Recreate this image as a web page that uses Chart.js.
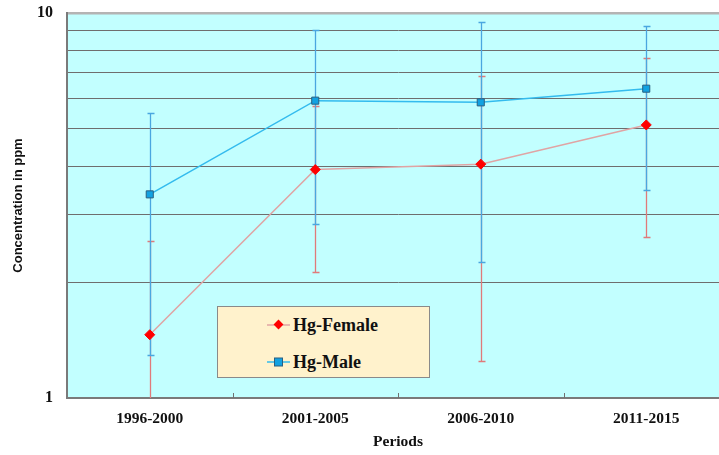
<!DOCTYPE html>
<html>
<head>
<meta charset="utf-8">
<script src="https://cdn.jsdelivr.net/npm/chart.js@4/dist/chart.umd.min.js"></script>
<style>
    html, body { margin: 0; padding: 0; background: #ffffff; overflow: hidden; }
    #wrap { position: relative; width: 735px; height: 455px; }
    #legend {
        position: absolute; left: 217px; top: 306px; width: 211px; height: 70px;
        background: #fff2cc; border: 1px solid #8a8a8a;
        font: bold 18px "Liberation Serif", serif; color: #111;
    }
    .item { position: absolute; left: 49px; height: 20px; display: flex; align-items: center; }
    .item svg { margin-right: 3px; }
</style>
</head>
<body>
<div id="wrap">
    <canvas id="myChart" width="735" height="455"></canvas>
    <div id="legend">
        <div class="item" style="top: 8px;">
            <svg width="23" height="12"><line x1="0" y1="6" x2="23" y2="6" stroke="#e2a4a4" stroke-width="1.5"/><rect x="8" y="2" width="7" height="7" fill="#ff0000" transform="rotate(45 11.5 5.5)"/></svg>Hg-Female
        </div>
        <div class="item" style="top: 45px;">
            <svg width="23" height="12"><line x1="0" y1="6" x2="23" y2="6" stroke="#33bbee" stroke-width="1.5"/><rect x="7.5" y="2" width="8" height="8" fill="#12a2e2" stroke="#2a5f80" stroke-width="1"/></svg>Hg-Male
        </div>
    </div>
</div>
<script>
const periods = ['1996-2000', '2001-2005', '2006-2010', '2011-2015'];

const femaleMean = [1.46, 3.92, 4.05, 5.12];
const femaleLow = [0.9, 2.12, 1.25, 2.62];
const femaleHigh = [2.56, 5.74, 6.85, 7.64];

const maleMean = [3.38, 5.92, 5.86, 6.36];
const maleLow = [1.29, 2.83, 2.26, 3.46];
const maleHigh = [5.49, 9.03, 9.46, 9.25];

const yGridValues = [1, 2, 3, 4, 5, 6, 7, 8, 9, 10];
const yTickLabels = [1, 10];

// background, error bars and inner x tick marks
const extras = {
    id: 'extras',
    beforeDatasetsDraw(chart) {
        const { ctx, chartArea, scales } = chart;
        ctx.save();
        ctx.beginPath();
        ctx.rect(chartArea.left, chartArea.top, chartArea.right - chartArea.left, chartArea.bottom - chartArea.top);
        ctx.clip();
        const bars = [
            { low: femaleLow, high: femaleHigh, color: '#e07a7a' },
            { low: maleLow, high: maleHigh, color: '#4aa6e0' }
        ];
        bars.forEach(b => {
            ctx.strokeStyle = b.color;
            ctx.lineWidth = 1.3;
            periods.forEach((p, i) => {
                const x = Math.round(scales.x.getPixelForValue(i)) + 0.5;
                const y1 = Math.round(scales.y.getPixelForValue(b.low[i])) + 0.5;
                const y2 = Math.round(scales.y.getPixelForValue(b.high[i])) + 0.5;
                ctx.beginPath();
                ctx.moveTo(x, y1);
                ctx.lineTo(x, y2);
                ctx.moveTo(x - 3, y1);
                ctx.lineTo(x + 4, y1);
                ctx.moveTo(x - 3, y2);
                ctx.lineTo(x + 4, y2);
                ctx.stroke();
            });
        });
        ctx.strokeStyle = '#707070';
        ctx.lineWidth = 1;
        for (let i = 0; i < periods.length - 1; i++) {
            const x = Math.round(scales.x.getPixelForValue(i + 0.5)) + 0.5;
            ctx.beginPath();
            ctx.moveTo(x, chartArea.bottom);
            ctx.lineTo(x, chartArea.bottom - 5);
            ctx.stroke();
        }
        ctx.restore();
    },
    beforeDraw(chart) {
        const { ctx, chartArea } = chart;
        ctx.save();
        ctx.fillStyle = '#c2ffff';
        ctx.fillRect(chartArea.left, chartArea.top, chartArea.right - chartArea.left, chartArea.bottom - chartArea.top);
        ctx.restore();
    }
};

function createChart() {
    const ctx = document.getElementById('myChart').getContext('2d');
    new Chart(ctx, {
        type: 'line',
        data: {
            labels: periods,
            datasets: [
                {
                    label: 'Hg-Female',
                    data: femaleMean,
                    borderColor: '#e0a4a4',
                    borderWidth: 1.5,
                    pointStyle: 'rectRot',
                    pointRadius: 5,
                    pointBackgroundColor: '#ff0000',
                    pointBorderColor: '#ff0000',
                    pointBorderWidth: 1,
                    fill: false
                },
                {
                    label: 'Hg-Male',
                    data: maleMean,
                    borderColor: '#33bbee',
                    borderWidth: 1.5,
                    pointStyle: 'rect',
                    pointRadius: 5,
                    pointBackgroundColor: '#12a2e2',
                    pointBorderColor: '#2a5f80',
                    pointBorderWidth: 1,
                    fill: false
                }
            ]
        },
        options: {
            responsive: false,
            animation: false,
            layout: { padding: { top: 13, left: 0, right: 0, bottom: 0 } },
            scales: {
                x: {
                    type: 'category',
                    offset: true,
                    afterFit: scale => {
                        scale.height = 57;
                        scale.paddingLeft = 0;
                        scale.paddingRight = 0;
                    },
                    grid: { display: false, drawTicks: false },
                    border: { display: true, color: '#7a7a7a', width: 2 },
                    ticks: {
                        color: '#111',
                        padding: 12,
                        font: { family: 'Liberation Serif', weight: 'bold', size: 15.5 }
                    },
                    title: {
                        display: true,
                        text: 'Periods',
                        color: '#111',
                        padding: { top: 4, bottom: 4 },
                        font: { family: 'Liberation Serif', weight: 'bold', size: 15.5 }
                    }
                },
                y: {
                    type: 'logarithmic',
                    min: 1,
                    max: 10,
                    afterFit: scale => {
                        scale.width = 67;
                        scale.paddingTop = 0;
                        scale.paddingBottom = 0;
                    },
                    afterBuildTicks: scale => { scale.ticks = yGridValues.map(v => ({ value: v })); },
                    grid: {
                        drawTicks: false,
                        color: c => c.tick.value === 10 ? '#b4b4b4' : '#6e6e6e',
                        lineWidth: c => c.tick.value === 10 ? 2.5 : 1
                    },
                    border: { display: true, color: '#7a7a7a', width: 2 },
                    ticks: {
                        autoSkip: false,
                        color: '#111',
                        padding: 14,
                        font: { family: 'Liberation Serif', weight: 'bold', size: 16 },
                        callback: v => yTickLabels.includes(v) ? String(v) : ''
                    },
                    title: {
                        display: true,
                        text: 'Concentration in ppm',
                        color: '#111',
                        padding: { top: 11, bottom: 0 },
                        font: { family: 'Liberation Sans', weight: 'bold', size: 13 }
                    }
                }
            },
            plugins: {
                legend: { display: false },
                tooltip: { enabled: false }
            }
        },
        plugins: [extras]
    });
}

document.addEventListener('DOMContentLoaded', createChart);
</script>
</body>
</html>
